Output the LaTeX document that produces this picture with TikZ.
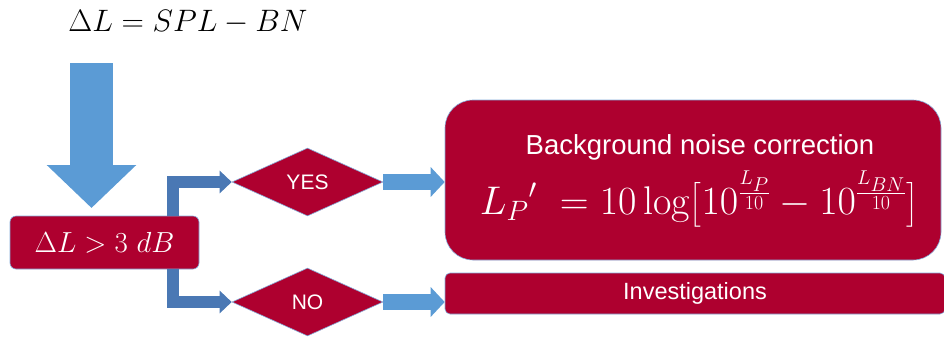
\RequirePackage{fix-cm}
\documentclass[tikz,border=0pt]{standalone}
\usepackage{amsmath}
\usepackage{fontspec}
\setsansfont{Liberation Sans}
\usetikzlibrary{shapes.geometric,arrows.meta,positioning}
\definecolor{boxred}{HTML}{AE002F}
\definecolor{lightarr}{HTML}{5B9BD5}
\definecolor{darkarr}{HTML}{4A78B4}
\definecolor{edgeblue}{HTML}{86AEDB}

\tikzset{
  redbox/.style={draw=edgeblue,line width=0.6pt,fill=boxred,text=white,inner sep=0pt},
  decision/.style={redbox,diamond,minimum width=151pt,minimum height=68pt,
    font=\sffamily\fontsize{21}{24}\selectfont},
  bigarrow/.style={lightarr,line width=16pt,-{Triangle[length=14pt,width=29pt]}},
  elbow/.style={darkarr,line width=12pt,line join=miter,-{Triangle[length=12pt,width=22pt]}}
}

\begin{document}
\begin{tikzpicture}[x=1pt,y=-1pt]
\useasboundingbox (0,0) rectangle (944,338);

\node (title) at (188,22) {\fontsize{31}{36}\selectfont $\Delta L = SPL - BN$};

\coordinate (dtop) at (91.5,63);
\coordinate (dtip) at (91.5,208);
\draw[lightarr,line width=43pt,-{Triangle[length=43pt,width=87pt]}] (dtop) -- (dtip);

\node[redbox,rounded corners=6pt,minimum width=189pt,minimum height=53pt] (cond) at (104.5,242.5)
  {\fontsize{29}{32}\selectfont $\Delta L > 3\ dB$};

\foreach \n / \t / \y in {yes/YES/182,no/NO/302}
  \node[decision] (\n) at (307.5,\y) {\t};

\node[redbox,rounded corners=28pt,minimum width=496pt,minimum height=160pt] (bnc) at (693,180) {};
\node[anchor=base,text=white,font=\sffamily\fontsize{27.5}{33}\selectfont] (bnct)
  at ([shift={(7pt,-55pt)}]bnc.north) {Background noise correction};
\node[anchor=base,text=white,font=\fontsize{40}{44}\selectfont] (bncf)
  at ([shift={(6pt,-115pt)}]bnc.north)
  {${L_P}'\ = 10\log\bigl[10^{\smash[b]{\frac{L_P}{10}}} - 10^{\smash[b]{\frac{L_{BN}}{10}}}\bigr]$};
\node[redbox,rounded corners=5pt,minimum width=500pt,minimum height=41pt,
  font=\sffamily\fontsize{23.5}{28}\selectfont] (inv) at (695,293.5) {Investigations};

\draw[elbow] ([xshift=-26.5pt]cond.north east) |- (yes.west);
\draw[elbow] ([xshift=-26.5pt]cond.south east) |- (no.west);

\draw[bigarrow] (yes.east) -- (bnc.west |- yes.east);
\draw[bigarrow] (no.east) -- (inv.west |- no.east);

\end{tikzpicture}
\end{document}
